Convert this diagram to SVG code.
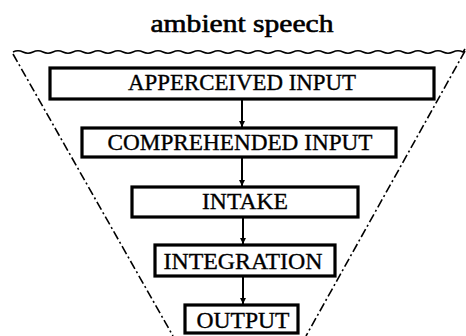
<svg xmlns="http://www.w3.org/2000/svg" width="466" height="336" viewBox="0 0 466 336">
  <defs>
    <style>
      .box { fill: #ffffff; stroke: #000000; stroke-width: 3.2; }
      .lbl { font-family: "Liberation Serif", "Times New Roman", serif; font-size: 23px; fill: #000000; text-anchor: middle; stroke: #000; stroke-width: 0.35; }
      .title { font-family: "Liberation Serif", "Times New Roman", serif; font-size: 25px; fill: #000000; text-anchor: middle; stroke: #000; stroke-width: 0.6; }
      .funnel { fill: none; stroke: #000000; stroke-width: 1.6; stroke-dasharray: 9 3 2 3; }
      .wave { fill: none; stroke: #000000; stroke-width: 1.6; }
      .conn { fill: none; stroke: #000000; stroke-width: 2; marker-end: url(#arr); }
    </style>
    <marker id="arr" viewBox="0 0 10 10" refX="10" refY="5" markerWidth="6" markerHeight="6" markerUnits="userSpaceOnUse" orient="auto">
      <path d="M0,0 L10,5 L0,10 z" fill="#000000"/>
    </marker>
  </defs>
  <rect width="466" height="336" fill="#ffffff"/>

  <g id="title">
    <text class="title" x="242" y="32" textLength="183" lengthAdjust="spacingAndGlyphs">ambient speech</text>
  </g>

  <g id="funnel">
    <path class="wave" d="M13,52 q5,-2.5 10,0 t10,0 t10,0 t10,0 t10,0 t10,0 t10,0 t10,0 t10,0 t10,0 t10,0 t10,0 t10,0 t10,0 t10,0 t10,0 t10,0 t10,0 t10,0 t10,0 t10,0 t10,0 t10,0 t10,0 t10,0 t10,0 t10,0 t10,0 t10,0 t10,0 t10,0 t10,0 t10,0 t10,0 t10,0 t10,0 t10,0 t10,0 t10,0 t10,0 t10,0 t10,0 t10,0 t10,0 t10,0 l2,-3"/>
    <line class="funnel" x1="13" y1="54" x2="173" y2="336"/>
    <line class="funnel" x1="465" y1="51" x2="306" y2="336"/>
  </g>

  <g id="connectors">
    <line class="conn" x1="242" y1="100" x2="242" y2="127"/>
    <line class="conn" x1="242" y1="158" x2="242" y2="186"/>
    <line class="conn" x1="243" y1="218" x2="243" y2="244"/>
    <line class="conn" x1="243" y1="277" x2="243" y2="304"/>
  </g>

  <g id="apperceived-input">
    <rect class="box" x="50" y="68" width="384" height="31"/>
    <text class="lbl" x="242" y="90" textLength="228" lengthAdjust="spacingAndGlyphs">APPERCEIVED INPUT</text>
  </g>

  <g id="comprehended-input">
    <rect class="box" x="82" y="128" width="314" height="29"/>
    <text class="lbl" x="240" y="150" textLength="265" lengthAdjust="spacingAndGlyphs">COMPREHENDED INPUT</text>
  </g>

  <g id="intake">
    <rect class="box" x="132" y="187" width="226" height="30"/>
    <text class="lbl" x="245" y="209" textLength="86" lengthAdjust="spacingAndGlyphs">INTAKE</text>
  </g>

  <g id="integration">
    <rect class="box" x="155" y="245" width="180" height="31"/>
    <text class="lbl" x="243" y="269" textLength="159" lengthAdjust="spacingAndGlyphs">INTEGRATION</text>
  </g>

  <g id="output">
    <rect class="box" x="185" y="305" width="113" height="28"/>
    <text class="lbl" x="243" y="328" textLength="93" lengthAdjust="spacingAndGlyphs">OUTPUT</text>
  </g>
</svg>
